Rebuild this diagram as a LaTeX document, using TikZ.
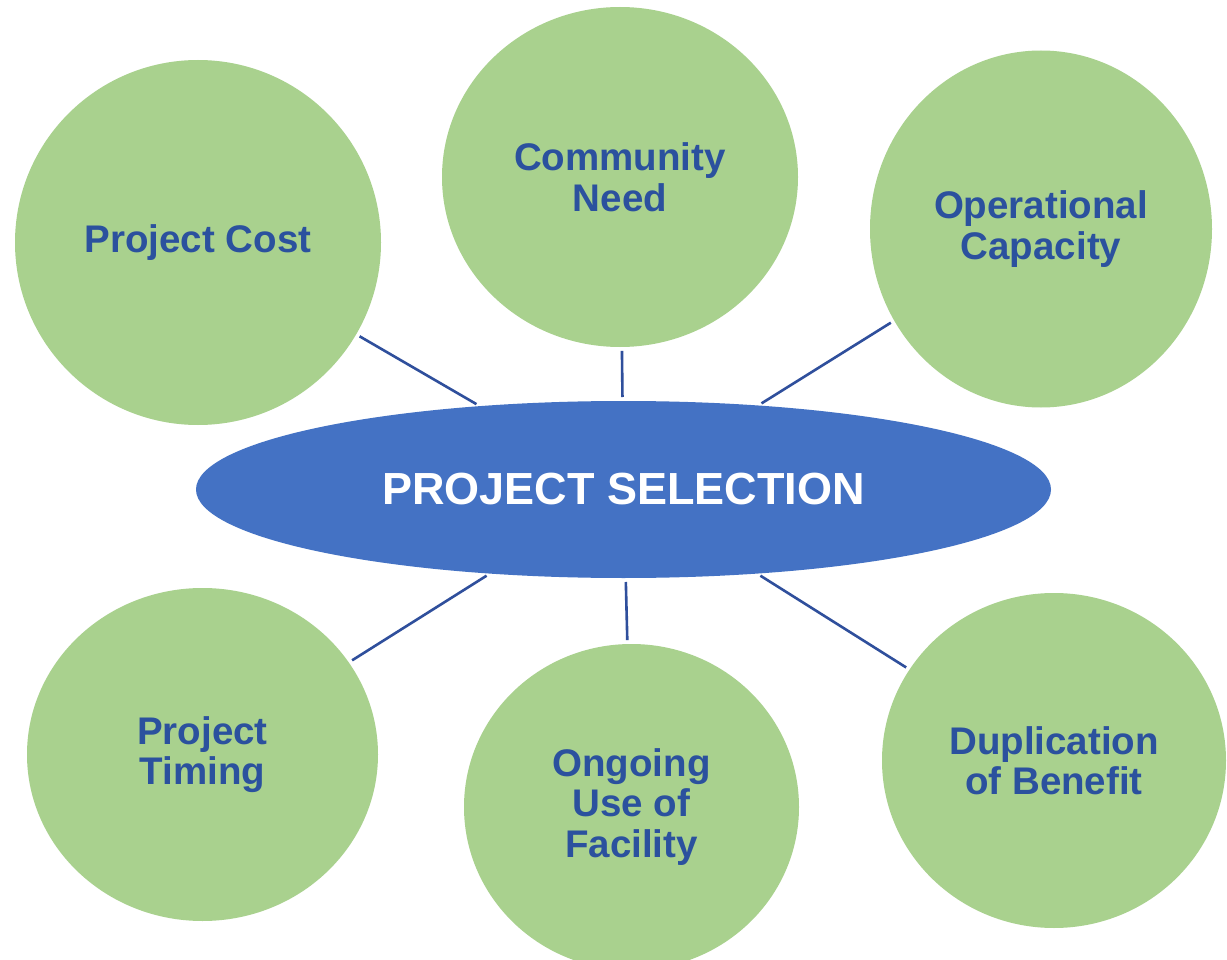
\documentclass[tikz,border=0pt]{standalone}
\usepackage{fontspec}
\setmainfont{Liberation Sans}
\usetikzlibrary{shapes.geometric}
\definecolor{leaf}{HTML}{A9D18E}
\definecolor{selblue}{HTML}{4472C4}
\definecolor{txtblue}{HTML}{2B519E}
\definecolor{lineblue}{HTML}{2F4F9C}
\begin{document}
\begin{tikzpicture}[x=1pt,y=-1pt,
  topic/.style={ellipse, fill=leaf, inner sep=0pt, outer sep=0pt, align=center,
    text=txtblue, font=\fontsize{38.5}{40.5}\selectfont\bfseries},
  hub/.style={ellipse, fill=selblue, inner sep=0pt, outer sep=0pt, text=white,
    font=\fontsize{45}{50}\selectfont\bfseries, minimum width=855pt, minimum height=177pt},
  conn/.style={draw=lineblue, line width=2.6pt, shorten <=4pt, shorten >=4pt}]
\useasboundingbox (0,0) rectangle (1227,960);
\clip (0,0) rectangle (1227,960);
\fill[white] (0,0) rectangle (1227,960);
\node[hub] (sel) at (623.5,489.5) {PROJECT SELECTION};
\node[topic, minimum width=366pt, minimum height=365pt] (cost) at (198,242.5) {Project Cost};
\node[topic, minimum width=356pt, minimum height=340pt] (need) at (620,177) {Community\\Need};
\node[topic, minimum width=342pt, minimum height=357pt] (oper) at (1041,229) {Operational\\Capacity};
\node[topic, minimum width=351pt, minimum height=333pt] (timing) at (202.5,754.5) {Project\\Timing};
\node[topic, minimum width=335pt, minimum height=326pt] (ongoing) at (631.5,807) {Ongoing\\Use of\\Facility};
\node[topic, minimum width=344pt, minimum height=335pt] (dup) at (1054,760.5) {Duplication\\of Benefit};
\draw[conn] (cost) -- (sel);
\draw[conn] (need) -- (sel);
\draw[conn] (oper) -- (sel);
\draw[conn] (timing) -- (sel);
\draw[conn] (ongoing) -- (sel);
\draw[conn] (dup) -- (sel);
\end{tikzpicture}
\end{document}
